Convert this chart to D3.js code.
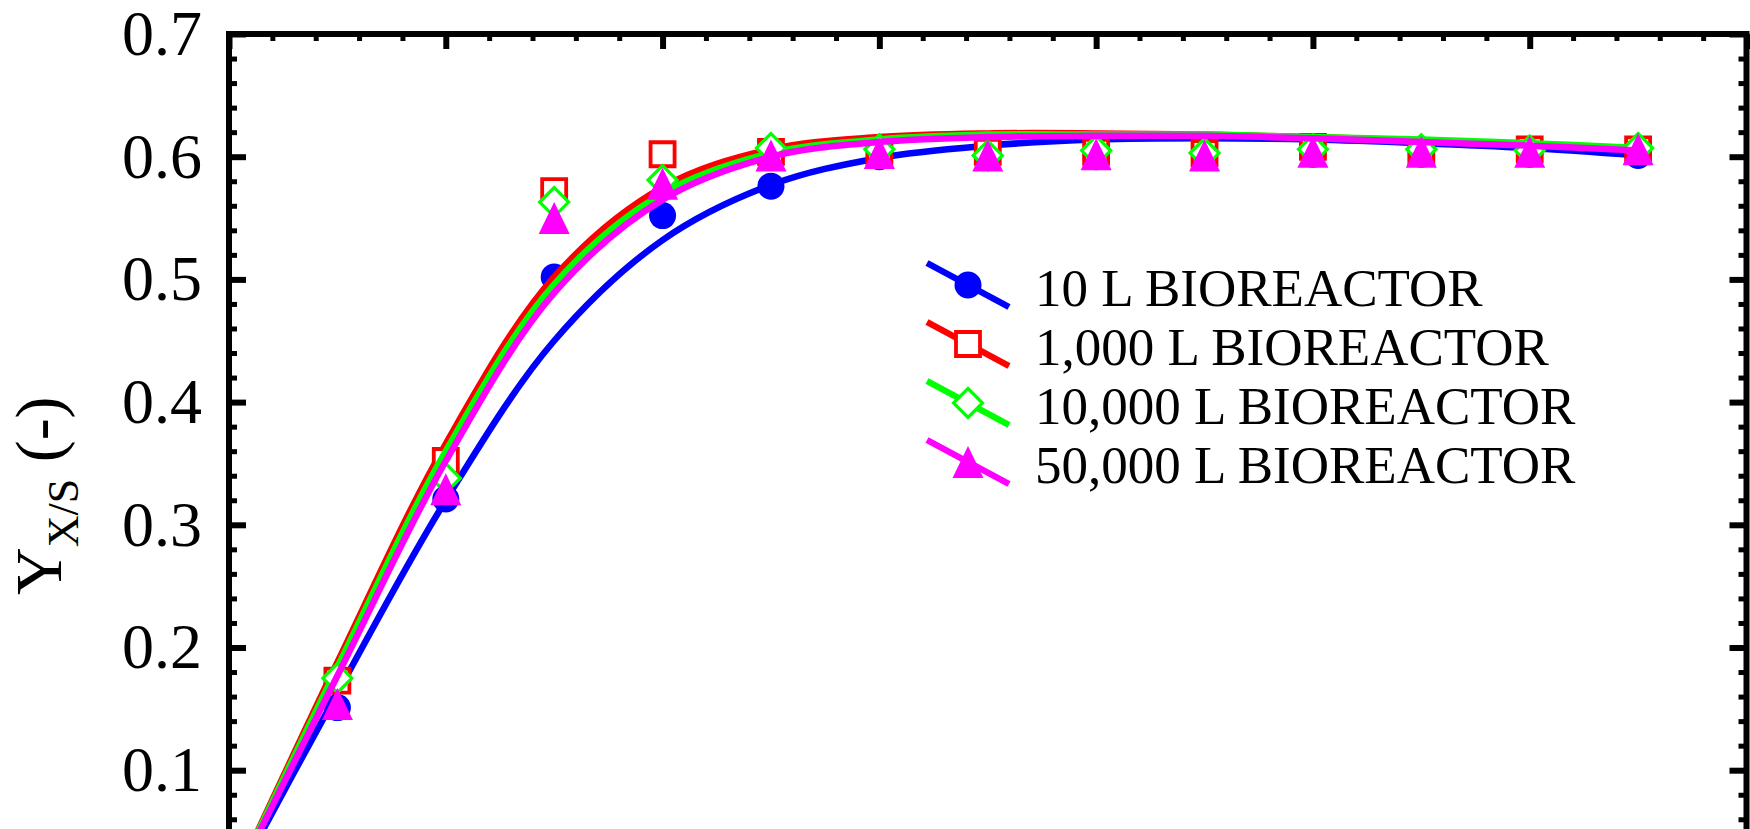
<!DOCTYPE html>
<html>
<head>
<meta charset="utf-8">
<script src="https://cdn.jsdelivr.net/npm/d3@7"></script>
<style>
html, body { margin: 0; padding: 0; overflow: hidden; background: #ffffff; }
svg { display: block; }
</style>
</head>
<body>
<svg id="chart" width="1750" height="829"></svg>
<script>
// ---------------- data ----------------
const seriesLabels = ["10 L BIOREACTOR", "1,000 L BIOREACTOR", "10,000 L BIOREACTOR", "50,000 L BIOREACTOR"];
const seriesColors = ["#0000ff", "#ff0000", "#00ff00", "#ff00ff"];
const seriesSymbols = ["circle", "square", "diamond", "triangle"];

const sampleTimes = [1, 2, 3, 4, 5, 6, 7, 8, 9, 10, 11, 12, 13];
const yield10L    = [0.151, 0.321, 0.502, 0.552, 0.576, 0.600, 0.600, 0.600, 0.600, 0.602, 0.602, 0.602, 0.601];
const yield1000L  = [0.173, 0.352, 0.572, 0.602, 0.604, 0.604, 0.604, 0.604, 0.603, 0.608, 0.603, 0.606, 0.606];
const yield10000L = [0.175, 0.338, 0.563, 0.581, 0.607, 0.606, 0.601, 0.605, 0.603, 0.606, 0.606, 0.605, 0.607];
const yield50000L = [0.154, 0.329, 0.550, 0.578, 0.601, 0.603, 0.601, 0.602, 0.601, 0.604, 0.604, 0.604, 0.606];

const fitTimes    = [0, 1, 2, 3, 4, 5, 6, 7, 8, 9, 10, 11, 12, 13];
const fit10L      = [0, 0.163, 0.320, 0.450, 0.532, 0.577, 0.599, 0.609, 0.614, 0.615, 0.614, 0.611, 0.607, 0.601];
const fit1000L    = [0, 0.188, 0.366, 0.502, 0.575, 0.606, 0.616, 0.619, 0.619, 0.618, 0.616, 0.613, 0.610, 0.606];
const fit10000L   = [0, 0.184, 0.360, 0.496, 0.570, 0.603, 0.614, 0.618, 0.618, 0.618, 0.616, 0.614, 0.611, 0.607];
const fit50000L   = [0, 0.177, 0.352, 0.489, 0.565, 0.600, 0.612, 0.616, 0.617, 0.617, 0.615, 0.612, 0.609, 0.605];

const yTickValues = [0.1, 0.2, 0.3, 0.4, 0.5, 0.6, 0.7];
const yTickLabels = ["0.1", "0.2", "0.3", "0.4", "0.5", "0.6", "0.7"];
const xMajorTicks = [0, 2, 4, 6, 8, 10, 12, 14];

const pointSeries = [yield10L, yield1000L, yield10000L, yield50000L];
const fitSeries = [fit10L, fit1000L, fit10000L, fit50000L];

// ---------------- layout ----------------
const FONT = "'Liberation Serif', 'Times New Roman', serif";
const svg = d3.select("#chart");
const x0 = 229, x1 = 1746.5;
const x = d3.scaleLinear().domain([0, 14]).range([x0, x1]);
const y = d3.scaleLinear().domain([0, 0.7]).range([892.9, 34]);

const xMinor = d3.range(0, 14.0001, 0.4).filter(v => Math.abs(v / 2 - Math.round(v / 2)) > 1e-6);
const yMinor = d3.range(0, 0.7001, 0.02).filter(v => Math.abs(v * 10 - Math.round(v * 10)) > 1e-6);

function styleAxis(g, width) {
  g.select(".domain").remove();
  g.selectAll(".tick line").attr("stroke", "#000").attr("stroke-width", width);
  g.selectAll(".tick text").attr("font-family", FONT).attr("font-size", 64).attr("fill", "#000");
}

// left axis
svg.append("g").attr("transform", `translate(${x0},0)`)
  .call(d3.axisLeft(y).tickValues(yMinor).tickSizeInner(-8).tickSizeOuter(0).tickFormat(""))
  .call(g => styleAxis(g, 5));
svg.append("g").attr("transform", `translate(${x0},0)`)
  .call(d3.axisLeft(y).tickValues(yTickValues).tickSizeInner(-17).tickSizeOuter(0)
    .tickPadding(27).tickFormat((d, i) => yTickLabels[i]))
  .call(g => styleAxis(g, 6));

// right axis
svg.append("g").attr("transform", `translate(${x1},0)`)
  .call(d3.axisRight(y).tickValues(yMinor).tickSizeInner(-8).tickSizeOuter(0).tickFormat(""))
  .call(g => styleAxis(g, 5));
svg.append("g").attr("transform", `translate(${x1},0)`)
  .call(d3.axisRight(y).tickValues(yTickValues).tickSizeInner(-17).tickSizeOuter(0).tickFormat(""))
  .call(g => styleAxis(g, 6));

// top axis
svg.append("g").attr("transform", `translate(0,${y(0.7)})`)
  .call(d3.axisTop(x).tickValues(xMinor).tickSizeInner(-7).tickSizeOuter(0).tickFormat(""))
  .call(g => styleAxis(g, 5));
svg.append("g").attr("transform", `translate(0,${y(0.7)})`)
  .call(d3.axisTop(x).tickValues(xMajorTicks).tickSizeInner(-15).tickSizeOuter(0).tickFormat(""))
  .call(g => styleAxis(g, 6));

// frame
svg.append("rect")
  .attr("x", x0).attr("y", y(0.7))
  .attr("width", x1 - x0).attr("height", y(0) - y(0.7))
  .attr("fill", "none").attr("stroke", "#000").attr("stroke-width", 6);

// y-axis title
const title = svg.append("text")
  .attr("transform", "translate(61,595) rotate(-90)")
  .attr("font-family", FONT).attr("font-size", 66).attr("fill", "#000");
title.append("tspan").text("Y");
title.append("tspan").attr("font-size", 44).attr("dy", 17).text("X/S");
title.append("tspan").attr("dy", -17).text("\u00a0(-)");

// marker paths
function markerPath(kind) {
  if (kind === "square") return "M-12,-12H12V12H-12Z";
  if (kind === "diamond") return "M0,-14.5L14.5,0L0,14.5L-14.5,0Z";
  if (kind === "triangle") return "M0,-16L15.5,16L-15.5,16Z";
  return d3.symbol(d3.symbolCircle, Math.PI * 13.5 * 13.5)();
}
function styleMarker(sel, i) {
  const kind = seriesSymbols[i];
  const filled = kind === "circle" || kind === "triangle";
  sel.attr("d", markerPath(kind))
    .attr("fill", filled ? seriesColors[i] : "#ffffff")
    .attr("stroke", filled ? "none" : seriesColors[i])
    .attr("stroke-width", filled ? 0 : (kind === "square" ? 3.8 : 3.2));
}

const line = d3.line().curve(d3.curveCatmullRom.alpha(0.5))
  .x(d => x(d[0])).y(d => y(d[1]));

// series: line then markers, in order
fitSeries.forEach((fit, i) => {
  svg.append("path")
    .datum(fitTimes.map((t, k) => [t, fit[k]]))
    .attr("d", line)
    .attr("fill", "none")
    .attr("stroke", seriesColors[i])
    .attr("stroke-width", 6.5)
    .attr("stroke-linejoin", "round");
  svg.append("g").selectAll("path")
    .data(sampleTimes.map((t, k) => [t, pointSeries[i][k]]))
    .join("path")
    .attr("transform", d => `translate(${x(d[0])},${y(d[1])})`)
    .call(sel => styleMarker(sel, i));
});

// legend
const legX = 968, legY0 = 285, legStep = 59;
seriesLabels.forEach((label, i) => {
  const cy = legY0 + i * legStep;
  const g = svg.append("g").attr("transform", `translate(${legX},${cy})`);
  g.append("line").attr("x1", -41).attr("y1", -22).attr("x2", 41).attr("y2", 22)
    .attr("stroke", seriesColors[i]).attr("stroke-width", 6.5);
  g.append("path").call(sel => styleMarker(sel, i));
  svg.append("text")
    .attr("x", 1035).attr("y", cy + 21)
    .attr("font-family", FONT).attr("font-size", 53).attr("fill", "#000")
    .text(label);
});
</script>
</body>
</html>
